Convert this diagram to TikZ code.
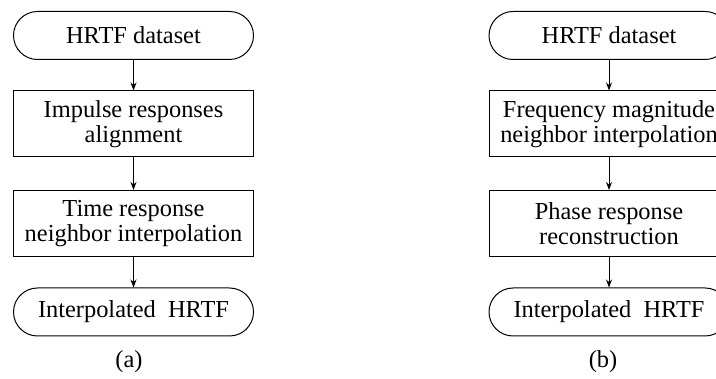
\documentclass[tikz,border=0pt]{standalone}
\usepackage{fontspec}
\setmainfont{Liberation Serif}
\usetikzlibrary{arrows.meta}

\begin{document}
\begin{tikzpicture}[x=0.5pt,y=0.5pt,line width=0.5pt,
    font=\fontsize{12.2}{12.2}\selectfont,
    term/.style={draw,rectangle,rounded corners=12pt,minimum width=120pt,minimum height=24pt,inner sep=0pt},
    proc/.style={draw,rectangle,minimum width=120pt,minimum height=33pt,inner sep=0pt,align=center},
    flow/.style={-{Stealth[length=4pt,width=3pt]}}]
    \useasboundingbox (0,0) rectangle (716,379);
    % (a) time domain
    \node (D) at (133.5,343.5) [term] {HRTF dataset};
    \node (A) at (133.5,255) [proc] {Impulse responses\\alignment};
    \node (T) at (133.5,155.5) [proc] {Time response\\neighbor interpolation};
    \node (H) at (133.5,67) [term] {Interpolated\ \ HRTF};
    \node (la) at (129,17) {(a)};
    \draw[flow] (D) -- (A);
    \draw[flow] (A) -- (T);
    \draw[flow] (T) -- (H);
    % (b) frequency domain
    \begin{scope}[xshift=237.75pt]
        \node (D1) at (133.5,343.5) [term] {HRTF dataset};
        \node (F1) at (133.5,255) [proc] {Frequency magnitude\\neighbor interpolation};
        \node (R1) at (133.5,155.5) [proc] {Phase response\\reconstruction};
        \node (H1) at (133.5,67) [term] {Interpolated\ \ HRTF};
        \node (lb) at (127.5,17) {(b)};
        \draw[flow] (D1) -- (F1);
        \draw[flow] (F1) -- (R1);
        \draw[flow] (R1) -- (H1);
    \end{scope}
\end{tikzpicture}
\end{document}
